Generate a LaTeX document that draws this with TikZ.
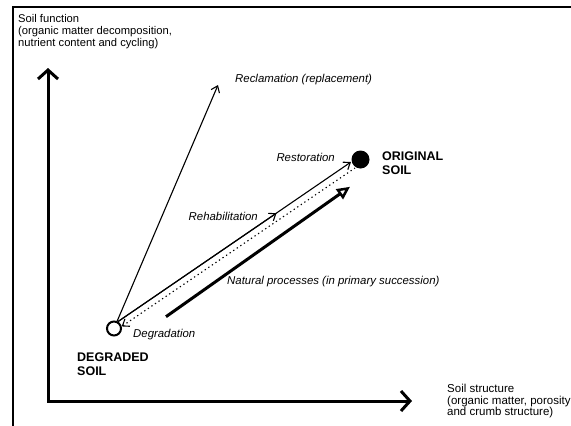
\documentclass[tikz,border=0pt]{standalone}
\usepackage{fontspec}
\setmainfont{Liberation Sans}
\usetikzlibrary{arrows.meta}
\begin{document}
\begin{tikzpicture}[x=1pt,y=-1pt,
  axislbl/.style={inner sep=0pt,align=left,font=\fontsize{11.2}{12}\selectfont},
  axislblb/.style={inner sep=0pt,align=left,font=\fontsize{11.5}{11.6}\selectfont},
  proclbl/.style={inner sep=0pt,font=\fontsize{11.4}{13}\selectfont\itshape},
  soillbl/.style={inner sep=0pt,align=left,font=\fontsize{12.5}{14}\selectfont\bfseries},
  axisline/.style={line width=3pt},
  thinarrow/.style={line width=1.1pt,-{Straight Barb[length=6pt,width=9pt,line width=1.1pt]}},
  dotarrow/.style={line width=1.1pt,dash pattern=on 1.3pt off 3pt,{Straight Barb[length=6pt,width=9pt,line width=1.1pt]}-},
  natarrow/.style={line width=3pt,-{Triangle[open,length=13pt,width=12pt,line width=2.5pt]}}
]
\useasboundingbox (0,0) rectangle (571,426);
\fill[white] (0,0) rectangle (571,426);
% frame
\draw[line width=1.4pt] (13,426) -- (13,7) -- (571,7);
% axes
\coordinate (O) at (48,401);
\coordinate (ytip) at (48,68);
\coordinate (xtip) at (412,401);
\draw[axisline,{Straight Barb[length=9pt,width=20pt,line width=3pt]}-{Straight Barb[length=9pt,width=20pt,line width=3pt]}] (ytip) -- (O) -- (xtip);
% axis labels
\node[axislbl,anchor=north west] (ylab) at (18,14) {Soil function\\(organic matter decomposition,\\nutrient content and cycling)};
\node[axislblb,anchor=north west] (xlab) at (447,384) {Soil structure\\(organic matter, porosity\\and crumb structure)};
% soil states
\node[circle,draw,line width=2pt,fill=white,minimum size=14pt,inner sep=0pt] (deg) at (114,328.5) {};
\node[circle,fill=black,minimum size=18pt,inner sep=0pt] (orig) at (360.5,159.5) {};
\node[soillbl,anchor=north west] (deglab) at (77,353) {DEGRADED\\SOIL};
\node[soillbl,anchor=north west] (origlab) at (382,152) {ORIGINAL\\SOIL};
% coordinates for arrows
\coordinate (recl) at (218,85);
\coordinate (rest) at (351,162);
\coordinate (rehab) at (276.5,213.2);
\coordinate (dotS) at (355,168);
\coordinate (natS) at (166,316.7);
\coordinate (natE) at (350,186.8);
% arrows
\draw[thinarrow] (deg) -- (recl);
\draw[thinarrow] (deg.60) -- (rest);
\draw[thinarrow] (deg.60) -- (rehab);
\draw[dotarrow] (deg.15) -- (dotS);
\draw[natarrow] (natS) -- (natE);
% process labels
\node[proclbl,anchor=west] (lrecl) at (235,80) {Reclamation (replacement)};
\node[proclbl,anchor=east] (lrest) at (335,157) {Restoration};
\node[proclbl,anchor=east] (lrehab) at (258,216) {Rehabilitation};
\node[proclbl,anchor=west] (lnat) at (227,282) {Natural processes (in primary succession)};
\node[proclbl,anchor=west] (ldeg) at (133,335) {Degradation};
\end{tikzpicture}
\end{document}
